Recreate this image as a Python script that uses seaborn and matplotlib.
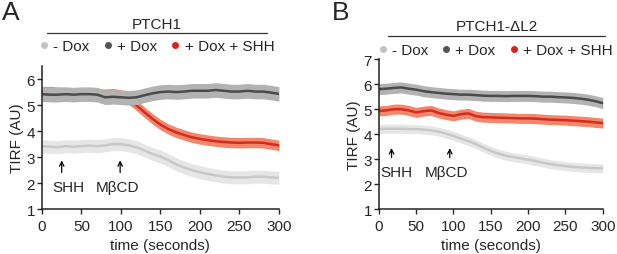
import numpy as np
import matplotlib
matplotlib.use('Agg')
import matplotlib.pyplot as plt
import seaborn as sns
from matplotlib.lines import Line2D

# time axis (seconds), one reading every 10 s
time_s = list(range(0, 301, 10))

# Panel A - PTCH1
a_minus_dox = [3.42, 3.40, 3.38, 3.42, 3.40, 3.42, 3.44, 3.42, 3.45, 3.50, 3.50, 3.45,
               3.38, 3.25, 3.12, 3.02, 2.88, 2.72, 2.60, 2.50, 2.42, 2.35, 2.30, 2.25,
               2.22, 2.22, 2.22, 2.25, 2.25, 2.22, 2.20]
a_plus_dox = [5.42, 5.40, 5.40, 5.42, 5.40, 5.42, 5.42, 5.40, 5.30, 5.32, 5.30, 5.28,
              5.30, 5.38, 5.45, 5.50, 5.52, 5.50, 5.52, 5.55, 5.55, 5.55, 5.58, 5.55,
              5.52, 5.52, 5.55, 5.52, 5.52, 5.48, 5.43]
a_dox_shh = [5.52, 5.52, 5.50, 5.48, 5.46, 5.45, 5.44, 5.43, 5.42, 5.44, 5.40, 5.22,
             4.98, 4.72, 4.47, 4.25, 4.08, 3.95, 3.85, 3.76, 3.70, 3.65, 3.61, 3.58,
             3.56, 3.55, 3.56, 3.56, 3.55, 3.50, 3.45]
a_sem = {'- Dox': 0.25, '+ Dox': 0.28, '+ Dox + SHH': 0.20}

# Panel B - PTCH1-ΔL2
b_minus_dox = [4.20, 4.22, 4.22, 4.22, 4.20, 4.20, 4.18, 4.15, 4.10, 4.02, 3.93, 3.82,
               3.72, 3.60, 3.46, 3.33, 3.22, 3.14, 3.08, 3.03, 2.98, 2.92, 2.86, 2.80,
               2.76, 2.72, 2.69, 2.67, 2.65, 2.64, 2.63]
b_plus_dox = [5.80, 5.82, 5.85, 5.87, 5.82, 5.78, 5.72, 5.68, 5.65, 5.62, 5.60, 5.58,
              5.58, 5.56, 5.54, 5.53, 5.53, 5.52, 5.53, 5.53, 5.53, 5.52, 5.50, 5.50,
              5.48, 5.47, 5.45, 5.42, 5.38, 5.32, 5.24]
b_dox_shh = [4.93, 4.95, 5.00, 5.00, 4.95, 4.87, 4.92, 4.95, 4.85, 4.78, 4.73, 4.80,
             4.83, 4.72, 4.68, 4.67, 4.66, 4.65, 4.64, 4.63, 4.63, 4.62, 4.60, 4.58,
             4.57, 4.56, 4.54, 4.52, 4.50, 4.47, 4.44]
b_sem = {'- Dox': 0.18, '+ Dox': 0.22, '+ Dox + SHH': 0.20}

conditions = ['- Dox', '+ Dox', '+ Dox + SHH']
line_colors = {'- Dox': '#c8c8c8', '+ Dox': '#4a4a4a', '+ Dox + SHH': '#d42a1f'}
band_colors = {'- Dox': '#e6e6e6', '+ Dox': '#b2b2b2', '+ Dox + SHH': '#f2876c'}
marker_colors = {'- Dox': '#c4c4c4', '+ Dox': '#555555', '+ Dox + SHH': '#e0201c'}

sns.set_style('ticks')
plt.rcParams['font.family'] = ['Liberation Sans', 'DejaVu Sans']
plt.rcParams['font.size'] = 11
FS = 11

fig = plt.figure(figsize=(6.17, 2.55), dpi=100)
axA = fig.add_axes([0.068, 0.176, 0.384, 0.561])
axB = fig.add_axes([0.614, 0.176, 0.363, 0.588])


def draw_panel(ax, series, sem, draw_order):
    for i, name in enumerate(draw_order):
        y = np.array(series[name])
        ax.fill_between(time_s, y - sem[name], y + sem[name],
                        color=band_colors[name], linewidth=0, zorder=2 * i + 1)
        sns.lineplot(x=time_s, y=y, ax=ax, color=line_colors[name],
                     linewidth=1.8, zorder=2 * i + 2)


panelA = {'- Dox': a_minus_dox, '+ Dox': a_plus_dox, '+ Dox + SHH': a_dox_shh}
panelB = {'- Dox': b_minus_dox, '+ Dox': b_plus_dox, '+ Dox + SHH': b_dox_shh}
draw_panel(axA, panelA, a_sem, ['- Dox', '+ Dox + SHH', '+ Dox'])
draw_panel(axB, panelB, b_sem, ['- Dox', '+ Dox + SHH', '+ Dox'])

for ax, ylim in [(axA, (1, 6.5)), (axB, (1, 7))]:
    ax.set_xlim(0, 300)
    ax.set_ylim(*ylim)
    ax.set_xticks(range(0, 301, 50))
    ax.set_yticks(range(1, int(ylim[1]) + 1))
    ax.set_xlabel('time (seconds)', fontsize=FS, labelpad=4)
    ax.set_ylabel('TIRF (AU)', fontsize=FS, labelpad=2)
    ax.tick_params(axis='x', direction='out', length=3.5, width=1.0, labelsize=FS, pad=3.5)
    ax.tick_params(axis='y', direction='out', length=3.5, width=1.0, labelsize=FS, pad=1.5)
    for s in ['left', 'bottom']:
        ax.spines[s].set_linewidth(1.1)
        ax.spines[s].set_color('#222222')
        ax.spines[s].set_zorder(10)
    sns.despine(ax=ax)

# arrows and labels
arrow_kw = dict(arrowstyle='->', color='black', lw=0.9, mutation_scale=8)
axA.annotate('', xy=(25, 2.98), xytext=(25, 2.3), arrowprops=arrow_kw)
axA.text(33, 1.85, 'SHH', ha='center', va='center', fontsize=FS)
axA.annotate('', xy=(99, 2.98), xytext=(99, 2.3), arrowprops=arrow_kw)
axA.text(96, 1.85, 'MβCD', ha='center', va='center', fontsize=FS)

axB.annotate('', xy=(17, 3.55), xytext=(17, 2.95), arrowprops=arrow_kw)
axB.text(24, 2.48, 'SHH', ha='center', va='center', fontsize=FS)
axB.annotate('', xy=(95, 3.55), xytext=(95, 2.95), arrowprops=arrow_kw)
axB.text(91, 2.48, 'MβCD', ha='center', va='center', fontsize=FS)

# titles with rule and legend
handles = [Line2D([], [], marker='o', linestyle='', markersize=4,
                  color=marker_colors[c], label=c) for c in conditions]
for ax, title, ty, ly, lx, legy, legx in [
        (axA, 'PTCH1', 1.294, 1.231, (0.02, 0.95), 1.14, 0.485),
        (axB, 'PTCH1-ΔL2', 1.22, 1.153, (0.04, 1.01), 1.06, 0.52)]:
    ax.text(sum(lx) / 2, ty, title, transform=ax.transAxes, ha='center',
            va='center', fontsize=FS)
    ax.plot(lx, [ly, ly], transform=ax.transAxes, color='#333333', lw=0.9,
            clip_on=False)
    ax.legend(handles=handles, loc='center', bbox_to_anchor=(legx, legy),
              ncol=3, frameon=False, fontsize=FS, handlelength=0.6,
              handletextpad=0.3, columnspacing=0.9, borderpad=0, borderaxespad=0)

fig.text(0.003, 0.995, 'A', fontsize=19, va='top', ha='left')
fig.text(0.538, 0.995, 'B', fontsize=19, va='top', ha='left')

fig.savefig('out.png', dpi=100)
